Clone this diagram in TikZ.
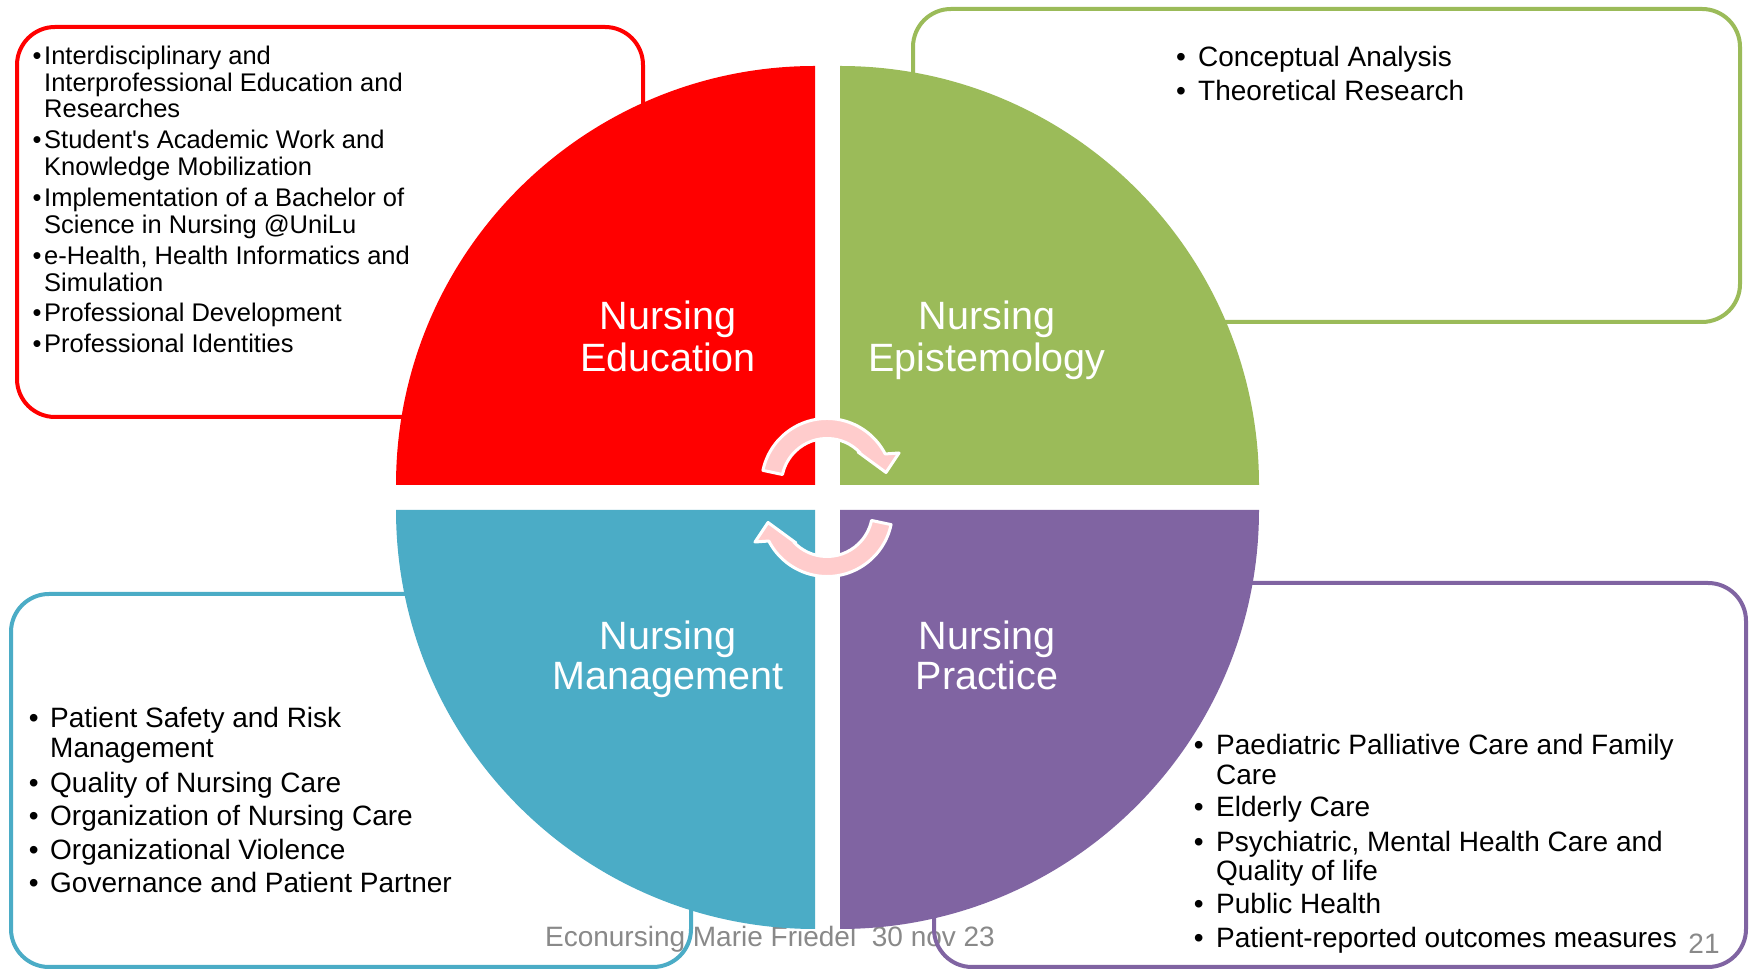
\documentclass[tikz,border=0pt]{standalone}
\usepackage{fontspec}
\setmainfont{Liberation Sans}
\definecolor{qred}{HTML}{FF0000}
\definecolor{qgreen}{HTML}{9BBB59}
\definecolor{qblue}{HTML}{4BACC6}
\definecolor{qpurple}{HTML}{8064A2}
\definecolor{arrpink}{HTML}{FFCCCC}
\definecolor{foot}{HTML}{898989}
\begin{document}
\begin{tikzpicture}[x=1pt,y=1pt,
  frame/.style={line width=4, rounded corners=38},
  arr/.style={fill=arrpink, draw=white, line width=3, line join=round},
  lbl/.style={text=white, font=\fontsize{39.5}{41}\selectfont, anchor=base, inner sep=0},
  redtxt/.style={font=\fontsize{25.5}{27}\selectfont, anchor=base west, inner sep=0},
  bodytxt/.style={font=\fontsize{28}{30}\selectfont, anchor=base west, inner sep=0},
  foottxt/.style={text=foot, font=\fontsize{28}{30}\selectfont, anchor=base, inner sep=0}]
\useasboundingbox (0,0) rectangle (1751,971);
\fill[white] (0,0) rectangle (1751,971);

% footer
\node[foottxt] (footer) at (770,24.7) {Econursing Marie Friedel\ \ 30 nov 23};
\node[foottxt] (pagenum) at (1704,17) {21};

% frames
\draw[frame, qred] (17,554) rectangle (643,944);
\draw[frame, qgreen] (913,649) rectangle (1740,962);
\draw[frame, qblue] (11,4) rectangle (691,377);
\draw[frame, qpurple] (934,4) rectangle (1746,388);

% quadrants
\fill[qred] (815,486) -- (396,486) arc[start angle=180,end angle=90,radius=419] -- cycle;
\fill[qgreen] (840,486) -- (840,905) arc[start angle=90,end angle=0,radius=419] -- cycle;
\fill[qblue] (815,461) -- (815,42) arc[start angle=270,end angle=180,radius=419] -- cycle;
\fill[qpurple] (840,461) -- (1259,461) arc[start angle=0,end angle=-90,radius=419] -- cycle;

% circular arrows
\begin{scope}[shift={(827,487)}]
  \filldraw[arr] (168:45.5) -- (168:65.5) arc[start angle=168,end angle=27.3,radius=65.5]
    -- (72,31) -- (59,11.5) -- (31,32) -- (43:45.5) arc[start angle=43,end angle=168,radius=45.5] -- cycle;
\end{scope}
\begin{scope}[shift={(827,460)}, rotate=180]
  \filldraw[arr] (168:45.5) -- (168:65.5) arc[start angle=168,end angle=27.3,radius=65.5]
    -- (72,31) -- (59,11.5) -- (31,32) -- (43:45.5) arc[start angle=43,end angle=168,radius=45.5] -- cycle;
\end{scope}

% quadrant labels
\node[lbl] (edu1) at (668,641) {Nursing};
\node[lbl] (edu2) at (668,599.5) {Education};
\node[lbl] (epi1) at (987,641) {Nursing};
\node[lbl] (epi2) at (987,599.5) {Epistemology};
\node[lbl] (man1) at (668,321.5) {Nursing};
\node[lbl] (man2) at (668,281.3) {Management};
\node[lbl] (pra1) at (987,321.5) {Nursing};
\node[lbl] (pra2) at (987,281.3) {Practice};

% red box text
\node[redtxt] (rb1) at (32.5,906.6) {•};
\node[redtxt] (r1a) at (44,906.6) {Interdisciplinary and};
\node[redtxt] (r1b) at (44,879.6) {Interprofessional Education and};
\node[redtxt] (r1c) at (44,853.1) {Researches};
\node[redtxt] (rb2) at (32.5,822.1) {•};
\node[redtxt] (r2a) at (44,822.1) {Student\textquotesingle s Academic Work and};
\node[redtxt] (r2b) at (44,795.1) {Knowledge Mobilization};
\node[redtxt] (rb3) at (32.5,764.1) {•};
\node[redtxt] (r3a) at (44,764.1) {Implementation of a Bachelor of};
\node[redtxt] (r3b) at (44,737.6) {Science in Nursing @UniLu};
\node[redtxt] (rb4) at (32.5,706.6) {•};
\node[redtxt] (r4a) at (44,706.6) {e-Health, Health Informatics and};
\node[redtxt] (r4b) at (44,679.6) {Simulation};
\node[redtxt] (rb5) at (32.5,649.1) {•};
\node[redtxt] (r5a) at (44,649.1) {Professional Development};
\node[redtxt] (rb6) at (32.5,618.1) {•};
\node[redtxt] (r6a) at (44,618.1) {Professional Identities};

% green box text
\node[bodytxt] (gb1) at (1176,904.7) {•};
\node[bodytxt] (g1) at (1198,904.7) {Conceptual Analysis};
\node[bodytxt] (gb2) at (1176,870.7) {•};
\node[bodytxt] (g2) at (1198,870.7) {Theoretical Research};

% blue box text
\node[bodytxt] (bb1) at (28.6,243.7) {•};
\node[bodytxt] (b1a) at (50,243.7) {Patient Safety and Risk};
\node[bodytxt] (b1b) at (50,213.7) {Management};
\node[bodytxt] (bb2) at (28.6,178.7) {•};
\node[bodytxt] (b2) at (50,178.7) {Quality of Nursing Care};
\node[bodytxt] (bb3) at (28.6,145.7) {•};
\node[bodytxt] (b3) at (50,145.7) {Organization of Nursing Care};
\node[bodytxt] (bb4) at (28.6,111.7) {•};
\node[bodytxt] (b4) at (50,111.7) {Organizational Violence};
\node[bodytxt] (bb5) at (28.6,78.7) {•};
\node[bodytxt] (b5) at (50,78.7) {Governance and Patient Partner};

% purple box text
\node[bodytxt] (pb1) at (1193.6,216.7) {•};
\node[bodytxt] (p1a) at (1216,216.7) {Paediatric Palliative Care and Family};
\node[bodytxt] (p1b) at (1216,186.7) {Care};
\node[bodytxt] (pb2) at (1193.6,154.7) {•};
\node[bodytxt] (p2) at (1216,154.7) {Elderly Care};
\node[bodytxt] (pb3) at (1193.6,119.7) {•};
\node[bodytxt] (p3a) at (1216,119.7) {Psychiatric, Mental Health Care and};
\node[bodytxt] (p3b) at (1216,90.7) {Quality of life};
\node[bodytxt] (pb4) at (1193.6,57.2) {•};
\node[bodytxt] (p4) at (1216,57.2) {Public Health};
\node[bodytxt] (pb5) at (1193.6,23.7) {•};
\node[bodytxt] (p5) at (1216,23.7) {Patient-reported outcomes measures};
\end{tikzpicture}
\end{document}
